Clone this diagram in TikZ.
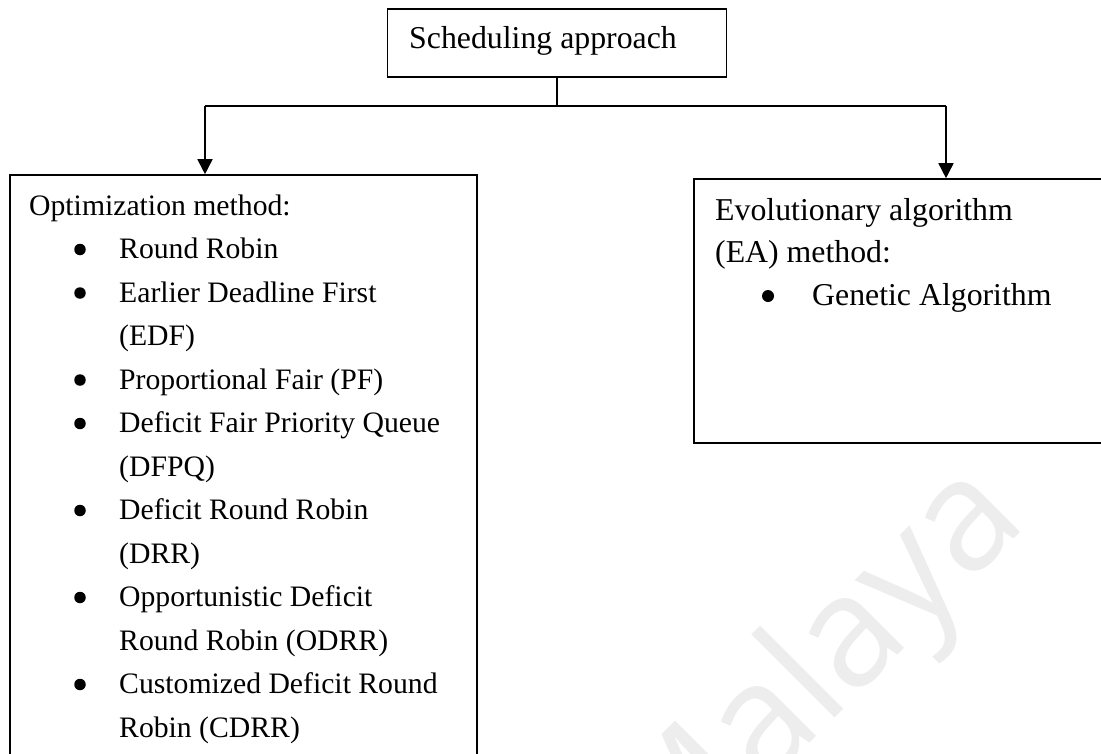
\documentclass[tikz,border=0pt]{standalone}
\usepackage{fontspec}
\setmainfont{Liberation Serif}
\newfontfamily\wmfont{Open Sans}
\usetikzlibrary{arrows.meta}
\begin{document}
\begin{tikzpicture}[x=1pt,y=-1pt,
  boxstyle/.style={draw=black,line width=1.6pt,rectangle,inner sep=0pt},
  txt/.style={anchor=base west,inner sep=0pt,font=\fontsize{29.7}{35}\selectfont},
  bigtxt/.style={anchor=base west,inner sep=0pt,font=\fontsize{31.8}{38}\selectfont},
  bul/.style={circle,fill=black,inner sep=0pt,minimum size=11.5pt},
  conn/.style={line width=1.6pt},
  arr/.style={line width=1.6pt,-{Triangle[length=15pt,width=15pt]}}]
\useasboundingbox (0,0) rectangle (1101,753);
% watermark
\node[anchor=base west,inner sep=0pt,rotate=45,text=black!7,font=\wmfont\fontsize{155}{155}\selectfont] (wm) at (665,888) {Malaya};
% top box
\node[boxstyle,minimum width=339pt,minimum height=68pt] (top) at (557,43) {};
\node[bigtxt] (toptext) at (409,48) {Scheduling approach};
% left box
\node[boxstyle,minimum width=467pt,minimum height=640pt] (left) at (243.5,495) {};
% right box
\node[boxstyle,minimum width=436pt,minimum height=264pt] (right) at (912,311) {};
% connectors
\coordinate (J) at (557,106);
\coordinate (JL) at (205,106);
\coordinate (JR) at (946,106);
\draw[conn] (top.south) -- (J);
\draw[conn] (JL) -- (JR);
\draw[arr] (JL) -- (JL |- left.north);
\draw[arr] (JR) -- (JR |- right.north);
% left text
\node[txt] (l0) at (29,215) {Optimization method:};
\node[txt] (l1) at (119,258.5) {Round Robin};
\node[txt] (l2) at (119,302) {Earlier Deadline First};
\node[txt] (l3) at (119,345.5) {(EDF)};
\node[txt] (l4) at (119,389) {Proportional Fair (PF)};
\node[txt] (l5) at (119,432.5) {Deficit Fair Priority Queue};
\node[txt] (l6) at (119,476) {(DFPQ)};
\node[txt] (l7) at (119,519.5) {Deficit Round Robin};
\node[txt] (l8) at (119,563) {(DRR)};
\node[txt] (l9) at (119,606.5) {Opportunistic Deficit};
\node[txt] (l10) at (119,650) {Round Robin (ODRR)};
\node[txt] (l11) at (119,693.5) {Customized Deficit Round};
\node[txt] (l12) at (119,737) {Robin (CDRR)};
\node[bul] (b1) at (80,249.5) {};
\node[bul] (b2) at (80,293) {};
\node[bul] (b4) at (80,380) {};
\node[bul] (b5) at (80,423.5) {};
\node[bul] (b7) at (80,510.5) {};
\node[bul] (b9) at (80,597.5) {};
\node[bul] (b11) at (80,684.5) {};
% right text
\node[bigtxt] (r0) at (715,220) {Evolutionary algorithm};
\node[bigtxt] (r1) at (715,262) {(EA) method:};
\node[bigtxt] (r2) at (812,305) {Genetic Algorithm};
\node[bul,minimum size=12pt] (rb) at (768,296) {};
\end{tikzpicture}
\end{document}
